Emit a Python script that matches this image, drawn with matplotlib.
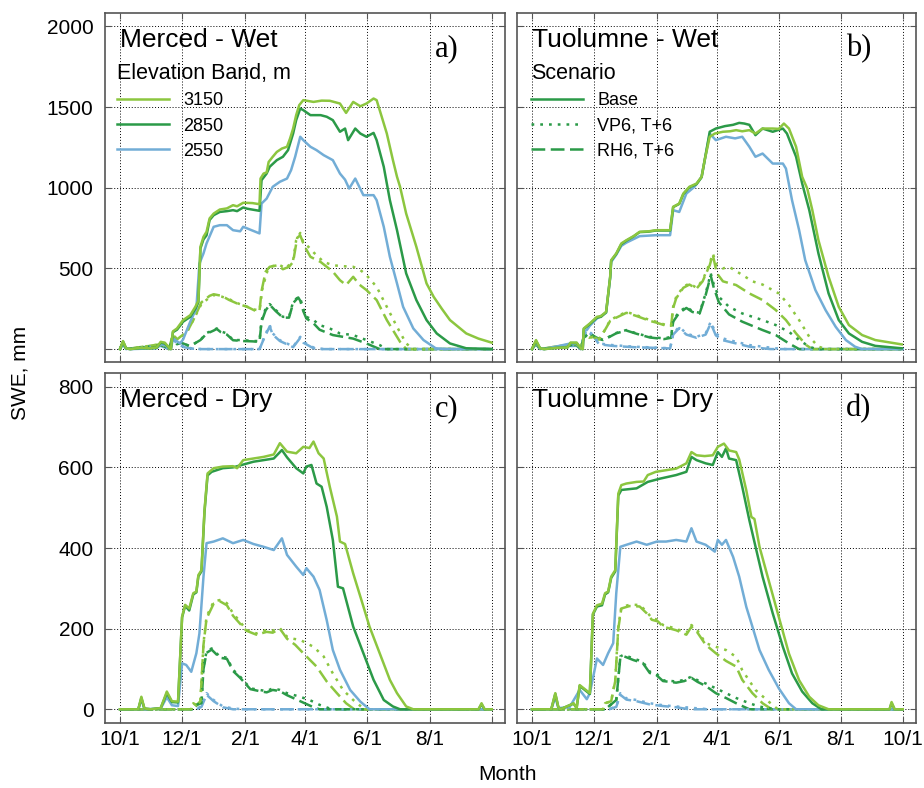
import matplotlib.pyplot as plt
from matplotlib.lines import Line2D
import numpy as np

plt.rcParams['font.family'] = ['Liberation Sans', 'DejaVu Sans']

# Water-year days since 10/1 for the month ticks
tick_days = [0, 61, 123, 182, 243, 304, 365]
tick_labels = ['10/1', '12/1', '2/1', '4/1', '6/1', '8/1', '10/1']

bands = ['3150', '2850', '2550']
scenarios = ['Base', 'VP6, T+6', 'RH6, T+6']

# ---- Merced - Wet (day, SWE mm) ----
mw_3150_base = [(0,0),(3,50),(6,5),(10,0),(20,8),(30,5),(36,10),(40,45),(44,40),(48,10),(50,0),(52,110),(56,128),(62,180),(69,210),(74,262),(77,300),(79,634),(82,696),(85,727),(88,810),(92,840),(98,865),(105,872),(111,892),(115,885),(121,907),(130,905),(137,898),(138,1057),(141,1088),(144,1095),(146,1160),(150,1192),(154,1222),(159,1243),(164,1254),(167,1305),(170,1367),(173,1450),(176,1512),(180,1543),(190,1532),(198,1540),(206,1539),(216,1522),(222,1464),(229,1532),(236,1505),(242,1522),(249,1553),(252,1543),(257,1440),(262,1336),(268,1171),(272,1068),(275,1006),(281,840),(291,634),(301,407),(308,324),(316,250),(324,180),(340,97),(352,65),(365,40)]
mw_2850_base = [(0,0),(3,45),(6,5),(10,0),(20,6),(30,5),(36,8),(40,40),(44,35),(48,8),(50,0),(52,105),(56,120),(62,170),(69,200),(74,250),(77,290),(79,624),(82,680),(85,705),(88,800),(92,830),(98,850),(105,855),(111,861),(115,855),(121,878),(125,870),(137,857),(139,1047),(144,1088),(147,1130),(154,1171),(160,1192),(165,1233),(170,1336),(173,1419),(177,1491),(180,1481),(187,1450),(197,1450),(203,1440),(209,1419),(216,1347),(221,1367),(224,1295),(231,1367),(236,1336),(242,1316),(249,1340),(252,1295),(259,1130),(265,923),(272,737),(281,469),(291,304),(301,180),(311,97),(324,35),(340,5),(365,0)]
mw_2550_base = [(0,0),(3,40),(6,3),(10,0),(36,5),(40,30),(44,25),(48,5),(50,0),(52,66),(59,35),(62,60),(69,170),(75,252),(78,530),(82,593),(85,655),(92,758),(98,768),(105,768),(111,737),(118,730),(121,758),(128,740),(137,717),(139,902),(144,933),(150,1006),(157,1037),(164,1057),(168,1109),(172,1192),(177,1316),(180,1295),(187,1254),(193,1233),(200,1202),(209,1171),(216,1088),(221,1050),(225,995),(231,1057),(239,954),(249,954),(252,923),(259,758),(265,572),(272,407),(278,262),(288,128),(298,56),(310,5),(320,0),(365,0)]
mw_3150_vp6 = [(0,0),(3,45),(6,0),(40,30),(44,20),(48,0),(52,90),(56,60),(60,80),(65,97),(72,180),(80,280),(88,320),(92,335),(100,325),(107,310),(116,283),(125,262),(132,245),(137,240),(140,380),(145,490),(150,515),(157,520),(163,500),(170,551),(173,675),(177,720),(180,660),(185,634),(190,600),(200,540),(209,520),(216,515),(229,510),(236,490),(242,458),(252,386),(262,262),(272,138),(281,35),(288,0),(365,0)]
mw_3150_rh6 = [(0,0),(3,45),(6,0),(40,30),(44,20),(48,0),(52,90),(56,60),(60,80),(65,97),(72,180),(80,290),(88,330),(92,340),(100,330),(107,305),(116,280),(125,262),(132,240),(137,235),(139,360),(143,480),(147,510),(155,520),(160,495),(166,510),(170,540),(174,690),(177,705),(181,640),(187,572),(197,540),(209,480),(216,427),(222,397),(229,448),(235,400),(242,366),(252,304),(262,180),(275,45),(281,0),(365,0)]
mw_2850_vp6 = [(0,0),(3,40),(6,0),(40,25),(44,15),(48,0),(52,70),(56,30),(60,40),(68,20),(72,30),(79,56),(85,100),(92,118),(95,128),(99,110),(105,97),(111,56),(121,56),(130,50),(137,50),(139,180),(143,250),(147,279),(153,242),(160,200),(166,200),(170,293),(175,324),(177,315),(180,250),(183,200),(190,180),(196,149),(206,128),(216,97),(229,87),(242,56),(255,25),(262,0),(365,0)]
mw_2850_rh6 = [(0,0),(3,40),(6,0),(40,25),(44,15),(48,0),(52,70),(56,30),(60,40),(68,20),(72,30),(79,56),(85,95),(92,115),(95,125),(99,105),(105,90),(111,55),(121,50),(130,48),(137,45),(139,170),(143,240),(147,275),(153,235),(160,195),(166,195),(170,285),(175,320),(177,300),(180,235),(183,190),(190,160),(196,120),(209,87),(229,65),(242,35),(255,0),(365,0)]
mw_2550_vp6 = [(0,0),(3,35),(6,0),(40,20),(44,10),(48,0),(52,66),(57,35),(63,15),(70,5),(80,0),(137,0),(142,80),(147,149),(150,97),(157,55),(164,35),(170,15),(177,76),(180,45),(190,10),(200,0),(365,0)]
mw_2550_rh6 = [(0,0),(3,35),(6,0),(40,20),(44,10),(48,0),(52,60),(57,30),(63,12),(70,3),(80,0),(137,0),(142,75),(147,140),(150,90),(157,50),(164,30),(170,12),(177,70),(180,40),(190,5),(198,0),(365,0)]

# ---- Tuolumne - Wet ----
tw_3150_base = [(0,0),(4,56),(8,5),(12,0),(25,8),(35,10),(38,40),(44,40),(48,5),(50,0),(51,128),(57,159),(64,200),(68,205),(73,231),(77,448),(78,551),(83,593),(88,655),(93,675),(100,700),(106,727),(115,730),(122,737),(136,737),(139,882),(145,902),(149,964),(155,1006),(162,1026),(167,1068),(170,1171),(175,1316),(180,1336),(188,1347),(195,1350),(201,1357),(207,1350),(214,1357),(220,1336),(227,1367),(237,1367),(243,1365),(248,1398),(253,1367),(260,1254),(266,1068),(271,995),(276,861),(282,675),(292,448),(302,262),(312,149),(325,87),(338,56),(364,29)]
tw_2850_base = [(0,0),(4,50),(8,5),(12,0),(25,8),(35,10),(38,38),(44,38),(48,5),(50,0),(51,125),(57,155),(64,195),(68,200),(73,228),(77,445),(78,548),(83,590),(88,650),(93,672),(100,698),(106,725),(115,728),(122,735),(136,735),(139,880),(145,900),(149,960),(155,1003),(162,1022),(167,1065),(170,1170),(175,1347),(181,1367),(190,1382),(198,1390),(204,1402),(209,1398),(214,1390),(220,1326),(227,1367),(237,1347),(247,1367),(251,1336),(260,1192),(266,1026),(273,861),(282,593),(292,345),(302,180),(312,97),(325,45),(338,20),(364,5)]
tw_2550_base = [(0,0),(4,45),(8,3),(12,0),(38,35),(44,35),(48,5),(50,0),(51,110),(54,118),(57,145),(64,190),(73,225),(77,440),(78,540),(83,585),(88,640),(93,660),(106,700),(122,706),(136,706),(139,861),(145,850),(152,964),(160,1006),(167,1068),(175,1336),(181,1295),(191,1316),(200,1306),(207,1316),(214,1254),(220,1192),(227,1212),(237,1150),(247,1150),(250,1119),(256,923),(263,737),(269,551),(279,366),(289,242),(299,138),(309,56),(318,15),(325,0),(365,0)]
tw_3150_vp6 = [(0,0),(4,40),(8,0),(38,30),(44,30),(48,0),(51,80),(56,70),(60,76),(66,60),(72,120),(77,180),(83,200),(93,231),(103,210),(116,180),(122,170),(132,149),(137,150),(139,262),(142,324),(149,386),(155,407),(162,380),(168,427),(175,531),(178,593),(182,520),(188,500),(194,510),(207,460),(217,420),(227,400),(243,345),(253,273),(263,180),(273,76),(282,15),(290,0),(365,0)]
tw_3150_rh6 = [(0,0),(4,40),(8,0),(38,30),(44,30),(48,0),(51,80),(56,70),(60,76),(66,60),(72,120),(77,175),(83,195),(93,225),(103,205),(116,175),(122,165),(132,145),(137,145),(139,255),(142,315),(149,380),(155,400),(162,375),(168,420),(175,520),(178,585),(182,470),(188,420),(201,397),(214,345),(227,304),(240,242),(250,180),(260,97),(270,25),(276,0),(365,0)]
tw_2850_vp6 = [(0,0),(4,35),(8,0),(38,25),(44,25),(48,0),(51,70),(56,97),(64,70),(70,56),(77,80),(83,100),(93,118),(103,97),(116,76),(130,66),(137,76),(139,180),(145,231),(152,262),(158,235),(165,225),(171,345),(176,469),(179,400),(184,324),(194,262),(207,221),(227,180),(240,149),(253,107),(263,56),(273,15),(280,0),(365,0)]
tw_2850_rh6 = [(0,0),(4,35),(8,0),(38,25),(44,25),(48,0),(51,70),(56,97),(64,70),(70,56),(77,78),(83,98),(93,115),(103,95),(116,72),(130,62),(137,70),(139,170),(145,225),(152,255),(158,230),(165,220),(171,335),(176,455),(179,380),(184,290),(194,215),(207,170),(227,118),(240,87),(253,35),(263,0),(365,0)]
tw_2550_vp6 = [(0,0),(4,30),(8,0),(38,20),(44,20),(48,0),(51,80),(54,118),(60,90),(66,35),(79,25),(100,15),(120,10),(136,5),(139,97),(145,138),(152,97),(162,76),(171,97),(176,170),(181,97),(188,66),(201,45),(214,25),(227,15),(240,5),(250,0),(365,0)]
tw_2550_rh6 = [(0,0),(4,30),(8,0),(38,20),(44,20),(48,0),(51,75),(54,110),(60,85),(66,30),(79,20),(100,12),(120,8),(136,4),(139,90),(145,130),(152,90),(162,70),(171,90),(176,160),(181,85),(188,55),(201,35),(214,15),(227,5),(235,0),(365,0)]

# ---- Merced - Dry ----
md_3150_base = [(0,0),(18,0),(21,31),(24,2),(30,0),(40,3),(46,44),(51,20),(57,19),(61,230),(64,259),(68,250),(72,288),(75,292),(77,333),(80,345),(83,494),(86,585),(92,598),(101,602),(111,603),(115,598),(121,618),(131,622),(141,626),(151,632),(157,660),(164,639),(173,635),(180,651),(186,648),(190,664),(195,635),(200,622),(206,552),(213,478),(216,416),(221,410),(229,337),(239,255),(245,205),(255,139),(265,73),(272,40),(281,7),(288,0),(352,0),(355,15),(358,0),(365,0)]
md_2850_base = [(0,0),(18,0),(21,28),(24,2),(30,0),(40,3),(46,40),(51,18),(57,17),(61,228),(64,257),(68,245),(72,285),(75,290),(77,330),(80,342),(83,490),(86,580),(90,589),(101,598),(111,600),(121,607),(131,614),(141,618),(151,622),(159,643),(164,625),(173,598),(180,585),(183,602),(188,606),(193,560),(198,552),(203,502),(209,420),(214,304),(219,300),(229,205),(239,139),(249,73),(259,23),(268,7),(275,0),(352,0),(355,12),(358,0),(365,0)]
md_2550_base = [(0,0),(18,0),(21,25),(24,0),(40,2),(46,30),(51,10),(57,8),(61,114),(65,110),(70,93),(75,139),(78,188),(82,329),(85,412),(92,416),(101,424),(106,418),(111,412),(121,420),(131,410),(141,403),(151,395),(159,424),(164,383),(173,354),(180,333),(183,350),(190,329),(196,296),(203,221),(209,147),(216,98),(226,48),(236,19),(245,0),(365,0)]
md_3150_vp6 = [(0,0),(70,0),(72,15),(75,10),(79,20),(82,164),(85,230),(92,267),(98,271),(105,263),(111,238),(118,217),(124,197),(134,188),(144,197),(150,195),(157,201),(164,180),(170,175),(177,172),(190,155),(200,131),(209,89),(219,48),(229,23),(240,0),(365,0)]
md_3150_rh6 = [(0,0),(70,0),(72,15),(75,10),(79,20),(82,160),(85,225),(92,262),(98,268),(105,258),(111,232),(118,212),(124,195),(134,185),(144,192),(150,190),(157,200),(164,175),(172,160),(180,139),(193,106),(203,69),(213,40),(222,15),(230,0),(365,0)]
md_2850_vp6 = [(0,0),(72,0),(76,12),(80,15),(82,106),(85,143),(90,151),(98,131),(105,128),(111,98),(118,81),(128,52),(137,48),(144,45),(150,52),(157,48),(164,40),(177,31),(187,22),(196,11),(208,0),(365,0)]
md_2850_rh6 = [(0,0),(72,0),(76,12),(80,15),(82,100),(85,140),(90,148),(98,128),(105,125),(111,95),(118,78),(128,50),(137,45),(144,42),(150,48),(157,45),(164,35),(177,20),(190,5),(196,0),(365,0)]
md_2550_vp6 = [(0,0),(75,0),(80,8),(85,40),(92,23),(101,7),(111,2),(121,0),(365,0)]
md_2550_rh6 = [(0,0),(75,0),(80,6),(85,36),(92,20),(101,5),(111,0),(365,0)]

# ---- Tuolumne - Dry ----
td_3150_base = [(0,0),(19,0),(23,40),(26,5),(28,0),(37,10),(41,15),(44,3),(47,60),(52,50),(57,40),(60,237),(64,258),(69,262),(72,288),(75,292),(78,329),(82,345),(85,535),(88,556),(93,560),(103,564),(110,565),(114,581),(122,589),(132,593),(142,597),(152,610),(157,638),(162,630),(170,628),(178,630),(183,651),(189,659),(194,642),(201,638),(204,620),(211,543),(216,477),(219,472),(224,403),(233,320),(243,229),(253,138),(263,72),(273,31),(282,10),(292,0),(352,0),(354,18),(357,0),(365,0)]
td_2850_base = [(0,0),(19,0),(23,38),(26,5),(28,0),(37,10),(41,14),(44,3),(47,58),(52,48),(57,38),(60,235),(64,255),(69,258),(72,285),(75,290),(78,326),(82,342),(85,530),(88,544),(103,548),(114,564),(126,572),(142,581),(152,589),(157,626),(162,618),(171,610),(178,606),(183,638),(187,626),(191,647),(194,622),(201,618),(207,552),(214,469),(219,415),(227,329),(237,238),(247,155),(256,89),(266,44),(276,15),(285,0),(352,0),(354,15),(357,0),(365,0)]
td_2550_base = [(0,0),(19,0),(23,30),(26,3),(37,5),(47,48),(54,25),(57,40),(64,126),(70,110),(75,139),(80,164),(83,288),(87,403),(93,408),(103,416),(113,408),(123,416),(132,416),(142,420),(152,416),(157,449),(162,416),(171,408),(180,391),(183,420),(187,408),(191,420),(198,378),(204,329),(211,254),(217,205),(224,147),(233,98),(243,52),(253,15),(260,0),(365,0)]
td_3150_vp6 = [(0,0),(70,0),(72,15),(78,20),(82,73),(85,205),(88,254),(96,259),(106,259),(113,242),(118,226),(124,222),(129,209),(142,200),(152,189),(157,209),(163,195),(171,164),(181,155),(191,147),(201,130),(207,97),(220,48),(233,19),(242,0),(365,0)]
td_3150_rh6 = [(0,0),(70,0),(72,15),(78,20),(82,70),(85,200),(88,250),(96,256),(106,255),(113,238),(118,222),(124,218),(129,205),(142,196),(152,185),(157,205),(163,190),(171,160),(181,139),(191,120),(201,106),(207,73),(217,40),(227,15),(236,0),(365,0)]
td_2850_vp6 = [(0,0),(72,0),(76,8),(83,23),(87,131),(90,135),(100,126),(109,118),(116,93),(122,90),(129,72),(142,69),(150,73),(157,81),(163,72),(171,64),(181,52),(191,40),(201,28),(210,19),(223,7),(240,0),(365,0)]
td_2850_rh6 = [(0,0),(72,0),(76,8),(83,23),(87,128),(90,132),(100,122),(109,115),(116,90),(122,86),(129,70),(142,66),(150,70),(157,78),(163,68),(171,58),(181,40),(191,28),(201,15),(214,0),(365,0)]
td_2550_vp6 = [(0,0),(76,0),(83,8),(87,40),(93,27),(103,23),(116,15),(129,10),(142,7),(160,3),(175,0),(365,0)]
td_2550_rh6 = [(0,0),(76,0),(83,6),(87,36),(93,24),(103,20),(116,12),(129,8),(142,5),(155,0),(365,0)]

panels = [
    ('Merced - Wet', 'a)', {'Base': [mw_3150_base, mw_2850_base, mw_2550_base],
                           'VP6, T+6': [mw_3150_vp6, mw_2850_vp6, mw_2550_vp6],
                           'RH6, T+6': [mw_3150_rh6, mw_2850_rh6, mw_2550_rh6]}),
    ('Tuolumne - Wet', 'b)', {'Base': [tw_3150_base, tw_2850_base, tw_2550_base],
                             'VP6, T+6': [tw_3150_vp6, tw_2850_vp6, tw_2550_vp6],
                             'RH6, T+6': [tw_3150_rh6, tw_2850_rh6, tw_2550_rh6]}),
    ('Merced - Dry', 'c)', {'Base': [md_3150_base, md_2850_base, md_2550_base],
                           'VP6, T+6': [md_3150_vp6, md_2850_vp6, md_2550_vp6],
                           'RH6, T+6': [md_3150_rh6, md_2850_rh6, md_2550_rh6]}),
    ('Tuolumne - Dry', 'd)', {'Base': [td_3150_base, td_2850_base, td_2550_base],
                             'VP6, T+6': [td_3150_vp6, td_2850_vp6, td_2550_vp6],
                             'RH6, T+6': [td_3150_rh6, td_2850_rh6, td_2550_rh6]}),
]

colors = ['#8cc63f', '#2b9a48', '#72add6']
styles = {'Base': '-', 'VP6, T+6': (0, (1.1, 2.4)), 'RH6, T+6': (0, (5.5, 2.2))}
LW = 1.8

fig = plt.figure(figsize=(9.24, 7.88), dpi=100)
rects = [[0.1133, 0.5406, 0.4332, 0.4433], [0.5592, 0.5406, 0.4321, 0.4433],
         [0.1133, 0.0825, 0.4332, 0.4441], [0.5592, 0.0825, 0.4321, 0.4441]]

axes = []
for i, (title, letter, series) in enumerate(panels):
    ax = fig.add_axes(rects[i])
    axes.append(ax)
    for scen in ['RH6, T+6', 'VP6, T+6', 'Base']:
        for j in [2, 1, 0]:
            arr = np.array(series[scen][j], dtype=float)
            ax.plot(arr[:, 0], arr[:, 1], color=colors[j], lw=LW, ls=styles[scen])
    ax.set_xlim(-15, 378)
    ax.set_xticks(tick_days)
    if i < 2:
        ax.set_ylim(-80, 2085)
        ax.set_yticks([0, 500, 1000, 1500, 2000])
        ax.set_xticklabels([])
        if i == 0:
            ax.set_yticklabels(['', '500', '1000', '1500', '2000'])
        else:
            ax.set_yticklabels([])
    else:
        ax.set_ylim(-34, 834)
        ax.set_yticks([0, 200, 400, 600, 800])
        if i == 2:
            ax.set_yticklabels(['0', '200', '400', '600', '800'])
            ax.set_xticklabels(tick_labels[:-1] + [''])
        else:
            ax.set_yticklabels([])
            ax.set_xticklabels(tick_labels)
    ax.grid(True, color='black', ls=(0, (1, 2)), lw=0.7)
    ax.tick_params(direction='in', top=True, right=True, length=4, width=0.8,
                   color='#555555', labelsize=15)
    ax.tick_params(axis='x', pad=5)
    ax.tick_params(axis='y', pad=8)
    for s in ax.spines.values():
        s.set_color('#555555')
        s.set_linewidth(1.2)
    ax.text(0.038, 0.9027, title, transform=ax.transAxes, fontsize=19, va='baseline')
    ax.text(0.825, 0.876, letter, transform=ax.transAxes, fontsize=22, va='baseline',
            family='Liberation Serif')

# legends
band_handles = [Line2D([], [], color=c, lw=LW) for c in colors]
leg = axes[0].legend(band_handles, bands, title='Elevation Band, m', loc='upper left',
                     bbox_to_anchor=(0.03, 0.855), frameon=False, fontsize=13,
                     title_fontsize=15.5, alignment='left', handlelength=2.9,
                     handletextpad=0.8, labelspacing=0.45, borderpad=0, borderaxespad=0)
scen_handles = [Line2D([], [], color=colors[1], lw=LW, ls=styles[s]) for s in scenarios]
leg2 = axes[1].legend(scen_handles, scenarios, title='Scenario', loc='upper left',
                      bbox_to_anchor=(0.035, 0.855), frameon=False, fontsize=13,
                      title_fontsize=15.5, alignment='left', handlelength=2.9,
                      handletextpad=0.8, labelspacing=0.45, borderpad=0, borderaxespad=0)

fig.text(20.5 / 924, 1 - 373 / 788, 'SWE, mm', rotation=90, ha='center', va='center', fontsize=15)
fig.text(507.5 / 924, 1 - 775 / 788, 'Month', ha='center', va='center', fontsize=15)

fig.savefig('out.png', dpi=100)
